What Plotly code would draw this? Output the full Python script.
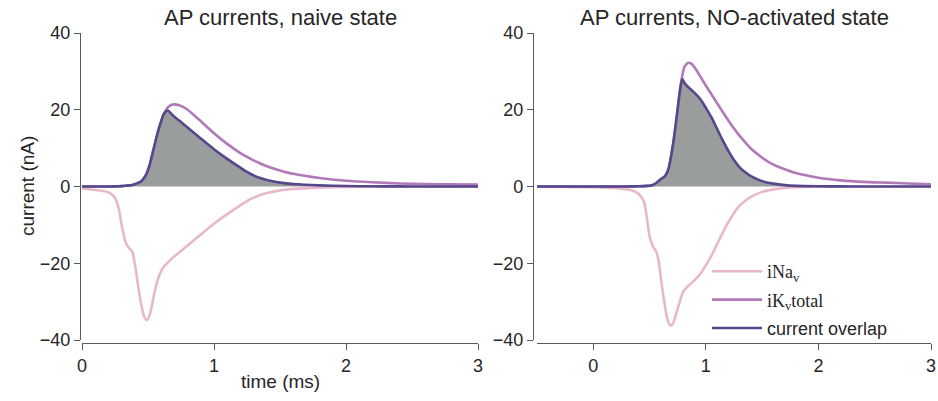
import numpy as np
import plotly.graph_objects as go

# ---- naive state (time in ms, currents in nA) ----
t_naive = [0.0, 0.1, 0.2, 0.25, 0.28, 0.30, 0.33, 0.36, 0.38, 0.40, 0.43, 0.45,
           0.47, 0.49, 0.51, 0.53, 0.55, 0.57, 0.60, 0.62, 0.65, 0.68, 0.70,
           0.75, 0.80, 0.90, 1.0, 1.1, 1.2, 1.25, 1.3, 1.35, 1.4, 1.5, 1.6,
           1.8, 2.0, 2.2, 2.4, 2.6, 2.8, 3.0]
ina_naive = [-0.6, -0.9, -1.5, -3.0, -6.0, -10.0, -14.5, -16.2, -16.9, -20.1,
             -27.0, -31.0, -33.8, -34.8, -33.8, -31.0, -27.5, -24.8, -22.0,
             -20.9, -19.8, -18.8, -18.2, -16.8, -15.4, -12.5, -9.7, -7.2,
             -4.9, -3.8, -2.9, -2.2, -1.7, -1.0, -0.65, -0.3, -0.12, -0.05,
             -0.02, -0.01, 0.0, 0.0]
ik_naive = [0.0, 0.0, 0.0, 0.02, 0.05, 0.1, 0.2, 0.3, 0.4, 0.6, 1.0, 1.4, 2.2,
            3.4, 5.3, 8.0, 10.8, 13.6, 17.0, 18.9, 20.6, 21.3, 21.4, 21.0,
            20.0, 17.0, 13.9, 11.1, 8.7, 7.7, 6.8, 6.0, 5.3, 4.2, 3.3, 2.2,
            1.5, 1.1, 0.8, 0.65, 0.55, 0.5]

# ---- NO-activated state ----
t_no = [-0.5, -0.3, 0.0, 0.2, 0.33, 0.40, 0.45, 0.48, 0.50, 0.53, 0.56, 0.58,
        0.60, 0.63, 0.65, 0.67, 0.69, 0.71, 0.73, 0.75, 0.77, 0.79, 0.81,
        0.84, 0.87, 0.90, 0.95, 1.0, 1.05, 1.1, 1.15, 1.2, 1.25, 1.3, 1.35,
        1.4, 1.5, 1.6, 1.7, 1.8, 2.0, 2.2, 2.4, 2.6, 2.8, 3.0]
ina_no = [-0.05, -0.1, -0.2, -0.45, -0.9, -1.8, -4.0, -9.0, -13.0, -15.6,
          -17.0, -19.3, -23.8, -30.0, -33.5, -35.5, -36.3, -35.6, -33.8,
          -31.8, -29.8, -28.0, -27.0, -26.0, -25.2, -24.4, -22.8, -20.5,
          -18.0, -15.0, -12.0, -9.3, -6.9, -5.0, -3.7, -2.7, -1.4, -0.75,
          -0.35, -0.15, -0.05, -0.02, -0.01, 0.0, 0.0, 0.0]
ik_no = [0.0, 0.0, 0.0, 0.0, 0.02, 0.05, 0.1, 0.15, 0.2, 0.4, 0.9, 1.4, 1.9,
         2.5, 3.3, 4.8, 7.7, 11.2, 15.6, 20.3, 25.0, 28.8, 31.2, 32.2, 32.0,
         31.0, 28.7, 26.3, 24.0, 21.7, 19.4, 17.2, 15.1, 13.2, 11.5, 9.9,
         7.5, 5.7, 4.5, 3.5, 2.3, 1.6, 1.2, 1.0, 0.8, 0.6]

titles = ["AP currents, naive state", "AP currents, NO-activated state"]
x_ticks = [0, 1, 2, 3]
y_ticks = [-40, -20, 0, 20, 40]
y_ticktext = ["\u221240", "\u221220", "0", "20", "40"]

C_NA = "rgb(232,184,202)"
C_K = "rgb(177,121,183)"
C_OV = "rgb(86,72,140)"
C_FILL = "rgb(153,157,155)"
TXT = "#262626"
AX = "#5a5a5a"
FONT = "Liberation Sans"
SERIF = "Liberation Serif"

W, H = 938, 401


def px_x(p):
    return p / W


def px_y(p):
    return (H - p) / H


fig = go.Figure()

panels = [
    (t_naive, ina_naive, ik_naive, "x", "y", False),
    (t_no, ina_no, ik_no, "x2", "y2", True),
]

for t, ina, ik, xa, ya, show in panels:
    t = np.asarray(t)
    ina = np.asarray(ina)
    ik = np.asarray(ik)
    # overlap of outward K+ and inward Na+ current
    overlap = np.clip(np.minimum(ik, -ina), 0, None)
    fig.add_trace(go.Scatter(x=t, y=overlap, xaxis=xa, yaxis=ya, mode="lines",
                             line=dict(width=0, shape="spline", smoothing=0.7),
                             fill="tozeroy", fillcolor=C_FILL,
                             showlegend=False, hoverinfo="skip"))
    fig.add_trace(go.Scatter(x=t, y=ina, xaxis=xa, yaxis=ya, mode="lines",
                             line=dict(color=C_NA, width=2.6, shape="spline",
                                       smoothing=0.7),
                             name=f'<span style="font-family:{SERIF}">iNa<sub>v</sub></span>',
                             legendgroup="a", showlegend=show))
    fig.add_trace(go.Scatter(x=t, y=ik, xaxis=xa, yaxis=ya, mode="lines",
                             line=dict(color=C_K, width=2.6, shape="spline",
                                       smoothing=0.7),
                             name=f'<span style="font-family:{SERIF}">iK<sub>v</sub>total</span>',
                             legendgroup="b", showlegend=show))
    fig.add_trace(go.Scatter(x=t, y=overlap, xaxis=xa, yaxis=ya, mode="lines",
                             line=dict(color=C_OV, width=2.6, shape="spline",
                                       smoothing=0.7),
                             name="current overlap",
                             legendgroup="c", showlegend=show))

axis_common = dict(showgrid=False, zeroline=False, showline=True,
                   automargin=False,
                   linecolor=AX, linewidth=1.3, ticks="outside", ticklen=6,
                   tickwidth=1.3, tickcolor=AX,
                   tickfont=dict(family=FONT, size=18, color=TXT))

fig.update_layout(
    width=W, height=H, margin=dict(l=0, r=0, t=0, b=0, autoexpand=False),
    paper_bgcolor="white", plot_bgcolor="white",
    xaxis=dict(domain=[px_x(82), px_x(478)], range=[0, 3], anchor="free",
               position=px_y(343), tickvals=x_ticks, **axis_common),
    yaxis=dict(domain=[px_y(340), px_y(33)], range=[-40, 40], anchor="free",
               position=px_x(80), tickvals=y_ticks, ticktext=y_ticktext,
               **axis_common),
    xaxis2=dict(domain=[px_x(537), px_x(931)], range=[-0.5, 3], anchor="free",
                position=px_y(343), tickvals=x_ticks, **axis_common),
    yaxis2=dict(domain=[px_y(340), px_y(33)], range=[-40, 40], anchor="free",
                position=px_x(533), tickvals=y_ticks, ticktext=y_ticktext,
                **axis_common),
    legend=dict(x=px_x(707), y=px_y(253), xanchor="left", yanchor="top",
                bgcolor="rgba(0,0,0,0)", font=dict(family=FONT, size=18,
                                                   color=TXT),
                tracegroupgap=2, itemwidth=50),
    showlegend=True,
)

annotations = [
    dict(text=titles[0], x=px_x(280), y=px_y(18), xref="paper", yref="paper",
         showarrow=False, font=dict(family=FONT, size=22, color=TXT),
         xanchor="center", yanchor="middle"),
    dict(text=titles[1], x=px_x(734), y=px_y(18), xref="paper", yref="paper",
         showarrow=False, font=dict(family=FONT, size=22, color=TXT),
         xanchor="center", yanchor="middle"),
    dict(text="current (nA)", x=px_x(27), y=px_y(186), xref="paper",
         yref="paper", showarrow=False, textangle=-90,
         font=dict(family=FONT, size=19, color=TXT),
         xanchor="center", yanchor="middle"),
    dict(text="time (ms)", x=px_x(280), y=px_y(381), xref="paper",
         yref="paper", showarrow=False,
         font=dict(family=FONT, size=19, color=TXT),
         xanchor="center", yanchor="middle"),
]
fig.update_layout(annotations=annotations)

fig.write_html("out.html")
